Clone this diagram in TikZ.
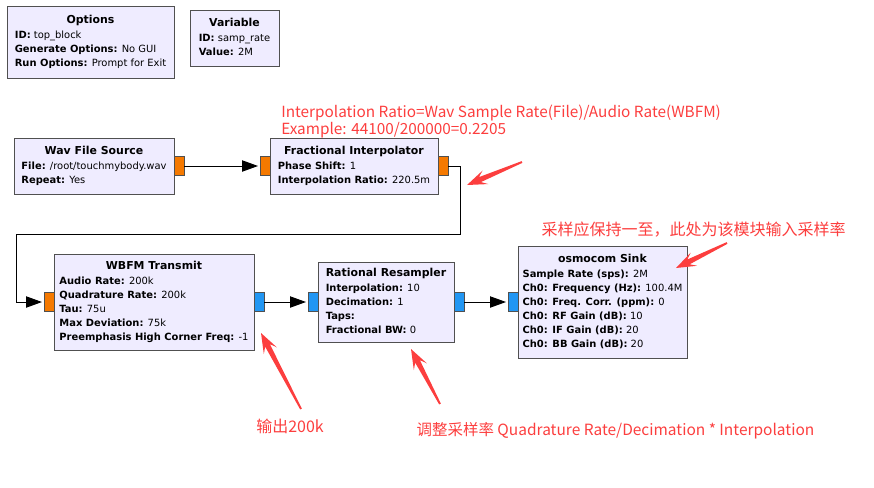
\documentclass[tikz,border=0pt]{standalone}
\usepackage{fontspec}
\setmainfont{DejaVu Sans}
\newfontfamily\cjkfont{Noto Sans CJK SC}
\usetikzlibrary{positioning,arrows.meta,calc}
\definecolor{blockfill}{RGB}{239,236,255}
\definecolor{blockline}{RGB}{80,80,80}
\definecolor{portorange}{RGB}{245,121,0}
\definecolor{portblue}{RGB}{33,150,243}
\definecolor{notered}{RGB}{252,62,62}
\tikzset{
    block/.style={
        rectangle, draw=blockline, fill=blockfill,
        inner sep=0pt, outer sep=0pt, line width=0.75pt,
        font=\fontsize{7.45}{10.5}\selectfont
    },
    port/.style={
        rectangle, draw=blockline, inner sep=0pt, outer sep=0pt,
        line width=0.75pt, minimum width=7.5pt, minimum height=14.25pt
    },
    flow/.style={->, line width=0.75pt, shorten >=1.5pt},
    note/.style={
        inner sep=0pt, text=notered, align=left,
        font=\cjkfont\fontsize{12}{12.75}\selectfont
    }
}
% block heading line
\newcommand{\btitle}[1]{\multicolumn{1}{@{}c@{}}{\fontsize{8.2}{10.5}\selectfont\textbf{#1}}}
% red pointer: #1 tail, #2 tip
\newcommand{\notearrow}[2]{%
    \fill[notered]
        ($(#1)!0.7pt!90:(#2)$) --
        ($(#2)!10.5pt!(#1)!2pt!90:(#2)$) --
        ($(#2)!15pt!(#1)!5.5pt!90:(#2)$) --
        (#2) --
        ($(#2)!15pt!(#1)!5.5pt!-90:(#2)$) --
        ($(#2)!10.5pt!(#1)!2pt!-90:(#2)$) --
        ($(#1)!0.7pt!-90:(#2)$) -- cycle;
}
\begin{document}
\begin{tikzpicture}[x=0.75pt, y=-0.75pt, >={Triangle[length=12pt,width=8.5pt]}]
    \useasboundingbox (0,0) rectangle (874,487);

    % Options and variable
    \node[block, minimum width=125.25pt, minimum height=54pt] (opts) at (90.5,42)
        {\begin{tabular}{@{}l@{}}
            \btitle{Options}\\[1pt]
            \textbf{ID:} top\_block\\
            \textbf{Generate Options:} No GUI\\
            \textbf{Run Options:} Prompt for Exit
        \end{tabular}};
    \node[block, minimum width=66.75pt, minimum height=42pt] (var) at (234.5,38)
        {\begin{tabular}{@{}l@{}}
            \btitle{Variable}\\[1pt]
            \textbf{ID:} samp\_rate\\
            \textbf{Value:} 2M
        \end{tabular}};

    % Source and interpolator
    \node[block, minimum width=120pt, minimum height=42pt] (wav) at (94,166)
        {\begin{tabular}{@{}l@{}}
            \btitle{Wav File Source}\\[1pt]
            \textbf{File:} /root/touchmybody.wav\\
            \textbf{Repeat:} Yes
        \end{tabular}};
    \node[block, minimum width=126pt, minimum height=42pt] (frac) at (354,166)
        {\begin{tabular}{@{}l@{}}
            \btitle{Fractional Interpolator}\\[1pt]
            \textbf{Phase Shift:} 1\\
            \textbf{Interpolation Ratio:} 220.5m
        \end{tabular}};

    % Transmit chain
    \node[block, minimum width=150pt, minimum height=72pt] (wbfm) at (154,302)
        {\begin{tabular}{@{}l@{}}
            \btitle{WBFM Transmit}\\[1pt]
            \textbf{Audio Rate:} 200k\\
            \textbf{Quadrature Rate:} 200k\\
            \textbf{Tau:} 75u\\
            \textbf{Max Deviation:} 75k\\
            \textbf{Preemphasis High Corner Freq:} -1
        \end{tabular}};
    \node[block, minimum width=102pt, minimum height=60pt] (resamp) at (386,302)
        {\begin{tabular}{@{}l@{}}
            \btitle{Rational Resampler}\\[1pt]
            \textbf{Interpolation:} 10\\
            \textbf{Decimation:} 1\\
            \textbf{Taps:}\\
            \textbf{Fractional BW:} 0
        \end{tabular}};
    \node[block, minimum width=126.75pt, minimum height=84pt] (sink) at (602.5,302)
        {\begin{tabular}{@{}l@{}}
            \btitle{osmocom Sink}\\[1pt]
            \textbf{Sample Rate (sps):} 2M\\
            \textbf{Ch0: Frequency (Hz):} 100.4M\\
            \textbf{Ch0: Freq. Corr. (ppm):} 0\\
            \textbf{Ch0: RF Gain (dB):} 10\\
            \textbf{Ch0: IF Gain (dB):} 20\\
            \textbf{Ch0: BB Gain (dB):} 20
        \end{tabular}};

    % Ports
    \node[port, fill=portorange, right=0pt of wav.east] (wavout) {};
    \node[port, fill=portorange, left=0pt of frac.west] (fracin) {};
    \node[port, fill=portorange, right=0pt of frac.east] (fracout) {};
    \node[port, fill=portorange, left=0pt of wbfm.west] (wbfmin) {};
    \node[port, fill=portblue, right=0pt of wbfm.east] (wbfmout) {};
    \node[port, fill=portblue, left=0pt of resamp.west] (resampin) {};
    \node[port, fill=portblue, right=0pt of resamp.east] (resampout) {};
    \node[port, fill=portblue, left=0pt of sink.west] (sinkin) {};

    % Connections
    \draw[flow] (wavout.east) -- (fracin.west);
    \draw[flow] (fracout.east) -| (460,234) -| (16,302) -- (wbfmin.west);
    \draw[flow] (wbfmout.east) -- (resampin.west);
    \draw[flow] (resampout.east) -- (sinkin.west);

    % Notes
    \node[note, anchor=north west, font=\cjkfont\fontsize{11.5}{12.75}\selectfont] (ratio) at (281,104.5)
        {Interpolation Ratio=Wav Sample Rate(File)/Audio Rate(WBFM)\\
         Example: 44100/200000=0.2205};
    \node[note] (keep) at (693.5,230) {采样应保持一至，此处为该模块输入采样率};
    \node[note] (out200) at (290,426) {输出200k};
    \node[note, font=\cjkfont\fontsize{11.6}{12.75}\selectfont] (adjust) at (615.5,431)
        {调整采样率 Quadrature Rate/Decimation * Interpolation};

    % Red pointers
    \coordinate (p1tail) at (522,162);
    \coordinate (p1tip) at (467,185);
    \coordinate (p2tail) at (727,243);
    \coordinate (p2tip) at (676,268);
    \coordinate (p3tail) at (301,409);
    \coordinate (p3tip) at (261,333);
    \coordinate (p4tail) at (440,404);
    \coordinate (p4tip) at (411,349);
    \notearrow{p1tail}{p1tip}
    \notearrow{p2tail}{p2tip}
    \notearrow{p3tail}{p3tip}
    \notearrow{p4tail}{p4tip}

\end{tikzpicture}
\end{document}
